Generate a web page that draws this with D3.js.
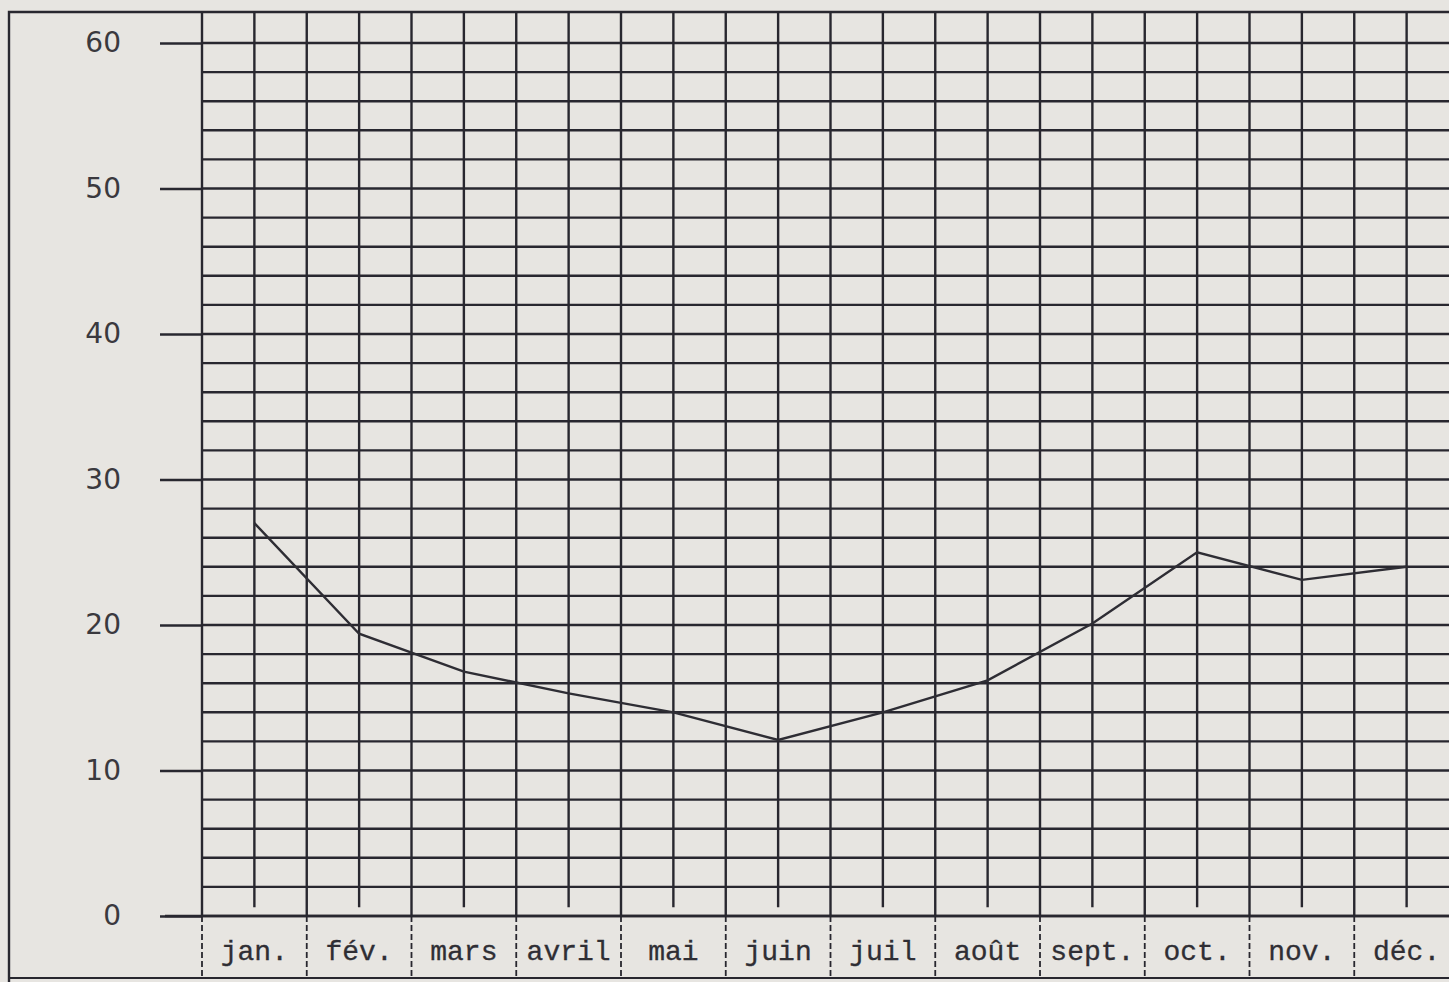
<!DOCTYPE html>
<html>
<head>
<meta charset="utf-8">
<script src="https://cdn.jsdelivr.net/npm/d3@7"></script>
<style>
  body { margin: 0; background: #e7e5e1; overflow: hidden; }
  svg { display: block; }
</style>
</head>
<body>
<svg id="chart"></svg>
<script>
// months and monthly values
const months = ['jan.', 'fév.', 'mars', 'avril', 'mai', 'juin', 'juil.', 'août', 'sept.', 'oct.', 'nov.', 'déc.'];
const values = [27, 19.4, 16.8, 15.3, 14, 12.1, 14, 16.2, 20.1, 25, 23.1, 24];
const yTicks = [0, 10, 20, 30, 40, 50, 60];

const width = 1449, height = 982;
const ink = '#28272f';

const svg = d3.select('#chart')
    .attr('width', width)
    .attr('height', height);

// scales
const x = d3.scaleBand()
    .domain(months)
    .range([202, 1459]);
const y = d3.scaleLinear()
    .domain([0, 60])
    .range([916, 43]);

const frameTop = 12, frameBottom = 978, frameLeft = 9;

// outer frame
svg.append('path')
    .attr('d', `M${width + 10},${frameTop} H${frameLeft} V${height + 5}`)
    .attr('fill', 'none')
    .attr('stroke', ink)
    .attr('stroke-width', 2.4);
svg.append('line')
    .attr('x1', frameLeft).attr('x2', width + 10)
    .attr('y1', frameBottom).attr('y2', frameBottom)
    .attr('stroke', ink)
    .attr('stroke-width', 2.2);

// horizontal grid, every 2 units
svg.append('g')
    .selectAll('line')
    .data(y.ticks(30))
    .enter()
    .append('line')
    .attr('x1', x.range()[0])
    .attr('x2', x.range()[1])
    .attr('y1', d => y(d))
    .attr('y2', d => y(d))
    .attr('stroke', ink)
    .attr('stroke-width', 2.4);

// month boundaries, down through the label row
const edges = months.map(m => x(m)).concat([x.range()[1]]);
svg.append('g')
    .selectAll('line')
    .data(edges)
    .enter()
    .append('line')
    .attr('x1', d => d).attr('x2', d => d)
    .attr('y1', frameTop).attr('y2', y(0))
    .attr('stroke', ink)
    .attr('stroke-width', 2.4);
svg.append('g')
    .selectAll('line')
    .data(edges)
    .enter()
    .append('line')
    .attr('x1', d => d).attr('x2', d => d)
    .attr('y1', y(0)).attr('y2', frameBottom)
    .attr('stroke', ink)
    .attr('stroke-width', 1.8)
    .attr('stroke-dasharray', '6,3');

// month centre lines
svg.append('g')
    .selectAll('line')
    .data(months)
    .enter()
    .append('line')
    .attr('x1', d => x(d) + x.bandwidth() / 2)
    .attr('x2', d => x(d) + x.bandwidth() / 2)
    .attr('y1', frameTop)
    .attr('y2', y(0.6))
    .attr('stroke', ink)
    .attr('stroke-width', 2.4);

// y axis: ticks reach left of the grid, sans labels
const yAxis = svg.append('g')
    .attr('transform', `translate(${x.range()[0]},0)`)
    .call(d3.axisLeft(y).tickValues(yTicks).tickSize(42).tickPadding(39));
yAxis.select('.domain').remove();
yAxis.selectAll('line')
    .attr('stroke', ink)
    .attr('stroke-width', 2.4);
yAxis.selectAll('text')
    .attr('font-family', '"DejaVu Sans", sans-serif')
    .attr('font-size', 28)
    .attr('fill', '#3a393e');

// x axis line at 0 extends left a bit
svg.append('line')
    .attr('x1', 165).attr('x2', x.range()[1])
    .attr('y1', y(0)).attr('y2', y(0))
    .attr('stroke', ink)
    .attr('stroke-width', 2.4);

// month labels, typewriter style
svg.append('g')
    .selectAll('text')
    .data(months)
    .enter()
    .append('text')
    .attr('x', d => x(d) + x.bandwidth() / 2)
    .attr('y', 960)
    .attr('text-anchor', 'middle')
    .attr('font-family', '"Liberation Mono", "Courier New", monospace')
    .attr('font-size', 28)
    .attr('fill', '#2f2e34')
    .attr('stroke', '#2f2e34')
    .attr('stroke-width', 0.3)
    .text(d => d === 'juil.' ? 'juil' : d);

// the curve
const line = d3.line()
    .x((d, i) => x(months[i]) + x.bandwidth() / 2)
    .y(d => y(d));
svg.append('path')
    .datum(values)
    .attr('d', line)
    .attr('fill', 'none')
    .attr('stroke', '#2e2d34')
    .attr('stroke-width', 2.4);
</script>
</body>
</html>
